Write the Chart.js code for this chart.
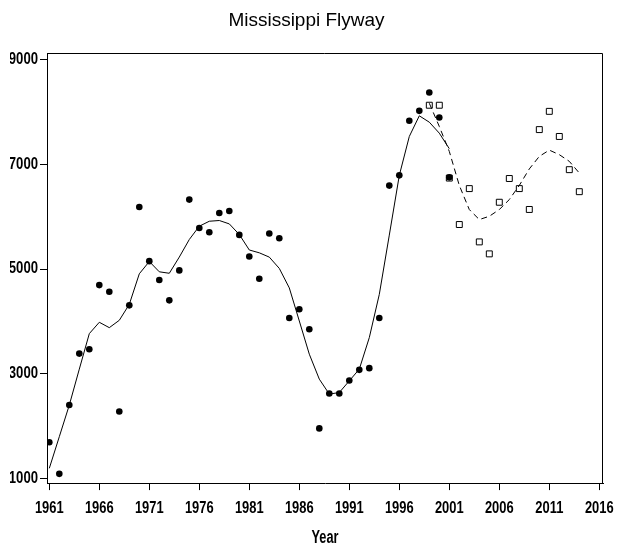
<!DOCTYPE html>
<html><head><meta charset="utf-8">
<script src="https://cdn.jsdelivr.net/npm/chart.js@4/dist/chart.umd.min.js"></script>
<style>html,body{margin:0;padding:0;background:#fff}</style>
</head><body>
<canvas id="c" width="618" height="548"></canvas>
<script>
// Observed (filled circles) 1961-2001
const obsYears = [1961,1962,1963,1964,1965,1966,1967,1968,1969,1970,1971,1972,1973,1974,1975,1976,1977,1978,1979,1980,1981,1982,1983,1984,1985,1986,1987,1988,1989,1990,1991,1992,1993,1994,1995,1996,1997,1998,1999,2000,2001];
const obsValues = [1690,1085,2400,3384,3468,4694,4567,2278,4307,6188,5152,4790,4402,4975,6329,5787,5705,6073,6111,5654,5242,4815,5680,5591,4065,4231,3849,1954,2621,2621,2869,3073,3106,4065,6596,6792,7836,8026,8376,7899,6754];
// Smoothed trend (solid) 1961-2001
const trendValues = [1191,1795,2400,3087,3766,3983,3880,4021,4326,4910,5145,4948,4920,5230,5566,5820,5915,5929,5864,5661,5365,5311,5229,5013,4640,4008,3373,2896,2610,2640,2863,3087,3690,4517,5650,6792,7536,7931,7809,7599,7302];
// Second survey (open squares) 1999-2014
const newYears = [1999,2000,2001,2002,2003,2004,2005,2006,2007,2008,2009,2010,2011,2012,2013,2014];
const newValues = [8133,8133,6740,5852,6539,5520,5291,6278,6732,6539,6140,7667,8016,7536,6901,6480];
// Smoothed trend (dashed) 1999-2014
const newTrend = [8171,7727,7250,6600,6138,5947,6010,6138,6329,6600,6915,7155,7275,7188,7060,6837];
// Axis ticks
const xTicks = [1961,1966,1971,1976,1981,1986,1991,1996,2001,2006,2011,2016];
const yTicks = [1000,3000,5000,7000,9000];

const pts = (xs, ys) => xs.map((x, i) => ({x, y: ys[i]}));

// Condensed rendering of real text: families named SqueezeNN are drawn at NN% width.
const _fillText = CanvasRenderingContext2D.prototype.fillText;
CanvasRenderingContext2D.prototype.fillText = function (text, x, y, maxWidth) {
  const m = /Squeeze(\d+)/.exec(this.font);
  if (m) {
    const w = this.measureText(text).width * (+m[1]) / 100;
    return _fillText.call(this, text, x, y, maxWidth !== undefined ? Math.min(maxWidth, w) : w);
  }
  return maxWidth !== undefined ? _fillText.call(this, text, x, y, maxWidth) : _fillText.call(this, text, x, y);
};
const BASE = "'Liberation Sans', Arial, sans-serif";

const frame = {
  id: 'frame',
  afterDatasetsDraw(chart) {
    const a = chart.chartArea, ctx = chart.ctx;
    ctx.save();
    ctx.strokeStyle = '#000';
    ctx.lineWidth = 1;
    ctx.beginPath();
    ctx.moveTo(Math.round(a.left), Math.round(a.top) + 0.5);
    ctx.lineTo(Math.round(a.right) - 0.5, Math.round(a.top) + 0.5);
    ctx.lineTo(Math.round(a.right) - 0.5, Math.round(a.bottom));
    ctx.stroke();
    ctx.restore();
  }
};

new Chart(document.getElementById('c'), {
  type: 'scatter',
  data: {
    datasets: [
      { data: pts(obsYears, obsValues), showLine: false, pointStyle: 'circle', pointRadius: 3.3, pointBorderWidth: 0, backgroundColor: '#000', borderColor: '#000', order: 0 },
      { data: pts(newYears, newValues), showLine: false, pointStyle: 'rect', pointRadius: 4.2, pointBorderWidth: 1, backgroundColor: 'rgba(255,255,255,0)', borderColor: '#000', order: 1 },
      { data: pts(obsYears, trendValues), showLine: true, pointRadius: 0, borderColor: '#000', borderWidth: 1, tension: 0, order: 2 },
      { data: pts(newYears, newTrend), showLine: true, pointRadius: 0, borderColor: '#000', borderWidth: 1, borderDash: [6, 4], tension: 0, order: 3 }
    ]
  },
  options: {
    responsive: false,
    animation: false,
    events: [],
    layout: { padding: { left: 10, right: 15, top: 0, bottom: 0 } },
    plugins: {
      legend: { display: false },
      tooltip: { enabled: false },
      title: { display: true, text: 'Mississippi Flyway', color: '#000', font: { family: BASE, size: 19, weight: 'normal', lineHeight: 1.2 }, padding: { top: 9, bottom: 21.5 } }
    },
    scales: {
      x: {
        type: 'linear', min: 1960.77, max: 2016.37,
        afterBuildTicks: s => { s.ticks = xTicks.map(v => ({ value: v })); },
        afterFit: s => { s.paddingLeft = 0; s.paddingRight = 0; },
        ticks: { color: '#000', font: { family: 'Squeeze76, ' + BASE, size: 17, weight: 'bold', lineHeight: 1.2 }, padding: 8, maxRotation: 0, autoSkip: false, callback: v => String(v) },
        grid: { display: true, drawOnChartArea: false, drawTicks: true, tickLength: 7, color: '#000' },
        border: { display: true, color: '#000' },
        title: { display: true, text: 'Year', color: '#000', font: { family: 'Squeeze71, ' + BASE, size: 18, weight: 'bold', lineHeight: 1 }, padding: { top: 2.5, bottom: 1 } }
      },
      y: {
        type: 'linear', min: 908, max: 9126,
        afterBuildTicks: s => { s.ticks = yTicks.map(v => ({ value: v })); },
        afterFit: s => { s.width = 37; },
        ticks: { color: '#000', font: { family: 'Squeeze82, ' + BASE, size: 16, weight: 'bold', lineHeight: 1.2 }, padding: 2, autoSkip: false, callback: v => String(v) },
        grid: { display: true, drawOnChartArea: false, drawTicks: true, tickLength: 7, color: '#000' },
        border: { display: true, color: '#000' }
      }
    }
  },
  plugins: [frame]
});
</script>
</body></html>
